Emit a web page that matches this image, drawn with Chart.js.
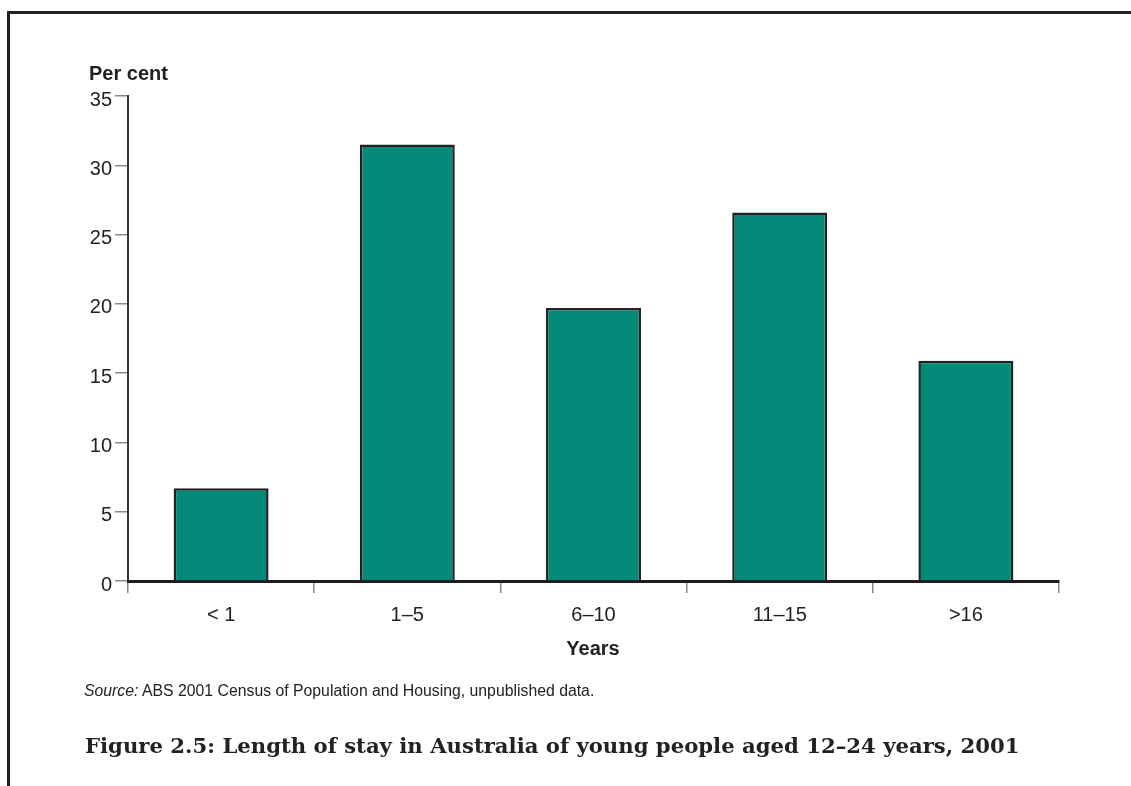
<!DOCTYPE html>
<html>
<head>
<meta charset="utf-8">
<script src="https://cdn.jsdelivr.net/npm/chart.js@4"></script>
<style>
    body {
        margin: 0;
        width: 1131px;
        height: 786px;
        overflow: hidden;
        background: #fff;
        position: relative;
        font-family: "Liberation Sans", Arial, sans-serif;
        color: #222;
    }
    #frame {
        position: absolute;
        left: 7px;
        top: 11px;
        width: 1140px;
        height: 800px;
        border-left: 3px solid #222;
        border-top: 3px solid #222;
    }
    #chart-wrap {
        position: absolute;
        left: 0;
        top: 0;
        width: 1131px;
        height: 786px;
    }
    .txt {
        position: absolute;
        line-height: 1;
        white-space: nowrap;
    }
    #y-title { left: 89px; top: 63px; font-size: 20px; font-weight: bold; }
    #x-title { left: 593px; top: 638px; font-size: 20px; font-weight: bold; transform: translateX(-50%); }
    #source { left: 84px; top: 683px; font-size: 15.8px; }
    #caption { left: 85px; top: 735px; font-size: 21.2px; font-weight: bold; font-family: "DejaVu Serif", serif; }
</style>
</head>
<body>
<div id="frame"></div>
<div id="chart-wrap"><canvas id="stay-chart" width="1131" height="786"></canvas></div>
<div class="txt" id="y-title">Per cent</div>
<div class="txt" id="x-title">Years</div>
<div class="txt" id="source"><i>Source:</i> ABS 2001 Census of Population and Housing, unpublished data.</div>
<div class="txt" id="caption">Figure 2.5: Length of stay in Australia of young people aged 12–24 years, 2001</div>
<script>
const categories = ['< 1', '1–5', '6–10', '11–15', '>16'];
const percentValues = [6.7, 31.5, 19.7, 26.6, 15.9];
const yTicks = [0, 5, 10, 15, 20, 25, 30, 35];

const tickFont = { family: '"Liberation Sans", Arial, sans-serif', size: 20 };

const ctx = document.getElementById('stay-chart').getContext('2d');
const chart = new Chart(ctx, {
    type: 'bar',
    data: {
        labels: categories,
        datasets: [{
            data: percentValues,
            backgroundColor: '#048a79',
            borderColor: '#222',
            borderWidth: 2.5,
            barPercentage: 0.51,
            categoryPercentage: 1
        }]
    },
    options: {
        responsive: false,
        animation: false,
        layout: {
            padding: { top: 96, right: 72, bottom: 165, left: 0 }
        },
        scales: {
            x: {
                afterFit: (scale) => { scale.height = 40; },
                grid: {
                    display: true,
                    drawOnChartArea: false,
                    drawTicks: true,
                    tickLength: 12,
                    color: '#888',
                    lineWidth: 1.5,
                    offset: true
                },
                border: { display: true, color: '#1e1e1e', width: 3 },
                ticks: { color: '#222', font: tickFont, padding: 10 }
            },
            y: {
                min: 0,
                max: 35,
                afterFit: (scale) => { scale.width = 128; },
                afterBuildTicks: (scale) => {
                    scale.ticks = yTicks.map(v => ({ value: v }));
                },
                grid: {
                    display: true,
                    drawOnChartArea: false,
                    drawTicks: true,
                    tickLength: 13,
                    color: '#888',
                    lineWidth: 1.5
                },
                border: { display: true, color: '#333', width: 2 },
                ticks: { color: '#222', font: tickFont, padding: 3, labelOffset: 4 }
            }
        },
        plugins: {
            legend: { display: false },
            tooltip: { enabled: false }
        }
    }
});
</script>
</body>
</html>
